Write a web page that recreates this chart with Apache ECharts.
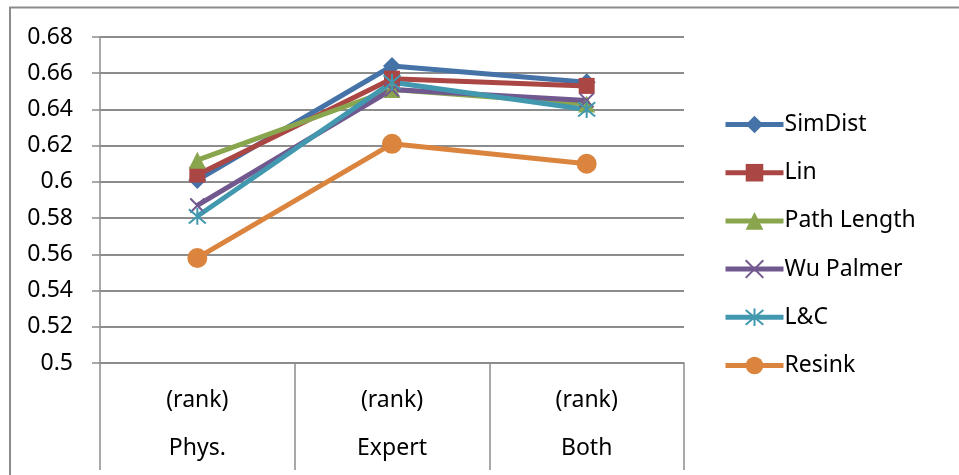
<!DOCTYPE html>
<html>
<head>
<meta charset="utf-8">
<script src="https://cdn.jsdelivr.net/npm/echarts@6/dist/echarts.min.js"></script>
<style>
  html, body { margin: 0; padding: 0; background: #fff; }
  #chart { width: 959px; height: 475px; }
</style>
</head>
<body>
<div id="chart"></div>
<script>
// Ranking groups on the x axis (two-line labels)
const categories = ['Phys.', 'Expert', 'Both'];
const categorySub = '(rank)';

// Scores per similarity measure
const simDist    = [0.601, 0.664, 0.655];
const lin        = [0.604, 0.657, 0.653];
const pathLength = [0.612, 0.651, 0.643];
const wuPalmer   = [0.587, 0.651, 0.645];
const lc         = [0.581, 0.655, 0.640];
const resink     = [0.558, 0.621, 0.610];

// Y axis range
const yMin = 0.5, yMax = 0.68, yStep = 0.02;

const FONT = 'Noto Sans';
const GRAY = '#8c8c8c';

const xMark = 'path://M0,0 L10,10 M10,0 L0,10';
const starMark = 'path://M5,0 L5,10 M0.8,0.8 L9.2,9.2 M9.2,0.8 L0.8,9.2';

function lineSeries(name, data, color, symbol, size, strokeOnly) {
  return {
    name: name,
    type: 'line',
    data: data,
    symbol: symbol,
    symbolSize: size,
    showAllSymbol: true,
    lineStyle: { color: color, width: 5 },
    itemStyle: strokeOnly
      ? { color: color, borderColor: color, borderWidth: 2 }
      : { color: color, borderWidth: 0 },
    emphasis: { disabled: true },
    animation: false
  };
}

const chart = echarts.init(document.getElementById('chart'), null, { renderer: 'canvas' });

chart.setOption({
  backgroundColor: '#fff',
  animation: false,
  textStyle: { fontFamily: FONT, color: '#000' },
  graphic: [{
    type: 'polyline',
    silent: true,
    shape: { points: [[10, 480], [10, 7.5], [959, 7.5]] },
    style: { stroke: GRAY, lineWidth: 2, fill: null }
  }],
  grid: { left: 100, right: 275, top: 37, bottom: 112, containLabel: false },
  legend: {
    orient: 'vertical',
    left: 723,
    top: 113,
    padding: 0,
    itemWidth: 58,
    itemHeight: 22,
    itemGap: 25.2,
    lineStyle: { width: 5 },
    textStyle: { fontFamily: FONT, fontSize: 23, color: '#000', padding: [0, 0, 0, -4] },
    data: ['SimDist', 'Lin', 'Path Length', 'Wu Palmer', 'L&C', 'Resink']
  },
  xAxis: {
    type: 'category',
    data: categories,
    boundaryGap: true,
    axisLine: { show: true, lineStyle: { color: GRAY, width: 1.5 } },
    axisTick: { show: true, interval: 0, length: 107, lineStyle: { color: GRAY, width: 1.5 } },
    axisLabel: {
      interval: 0,
      margin: 13,
      formatter: function (v) { return '{a|' + categorySub + '}\n{b|' + v + '}'; },
      rich: {
        a: { fontFamily: FONT, fontSize: 23, color: '#000', lineHeight: 48 },
        b: { fontFamily: FONT, fontSize: 23, color: '#000', lineHeight: 48 }
      }
    },
    splitLine: { show: false }
  },
  yAxis: {
    type: 'value',
    min: yMin,
    max: yMax,
    interval: yStep,
    axisLine: { show: true, lineStyle: { color: GRAY, width: 1.5 } },
    axisTick: { show: true, length: 8, lineStyle: { color: GRAY, width: 1.5 } },
    axisLabel: {
      margin: 27,
      fontFamily: FONT,
      fontSize: 23,
      color: '#000',
      formatter: function (v) { return String(+v.toFixed(2)); }
    },
    splitLine: { show: true, lineStyle: { color: GRAY, width: 2 } }
  },
  series: [
    lineSeries('SimDist', simDist, '#4572A7', 'diamond', 18, false),
    lineSeries('Lin', lin, '#AA4643', 'rect', 16, false),
    lineSeries('Path Length', pathLength, '#89A54E', 'triangle', 17, false),
    lineSeries('Wu Palmer', wuPalmer, '#71588F', xMark, 14, true),
    lineSeries('L&C', lc, '#4198AF', starMark, 17, true),
    lineSeries('Resink', resink, '#DB843D', 'circle', 20, false)
  ]
});
</script>
</body>
</html>
